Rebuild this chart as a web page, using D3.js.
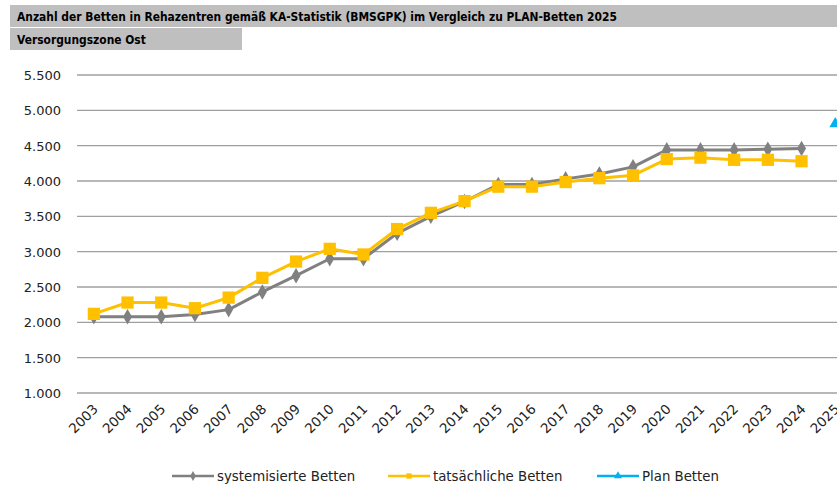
<!DOCTYPE html>
<html>
<head>
<meta charset="utf-8">
<script src="https://cdn.jsdelivr.net/npm/d3@7"></script>
<style>
  body { margin: 0; background: #fff; }
  svg { display: block; }
</style>
</head>
<body>
<div id="chart"></div>
<script>
const years = ["2003","2004","2005","2006","2007","2008","2009","2010","2011","2012","2013","2014",
  "2015","2016","2017","2018","2019","2020","2021","2022","2023","2024","2025"]
const systemisiert = [2080,2080,2080,2110,2180,2430,2660,2900,2900,3260,3500,3710,
  3950,3950,4030,4100,4200,4440,4440,4440,4450,4460,null]
const tatsaechlich = [2120,2280,2280,2200,2350,2630,2860,3040,2960,3320,3550,3715,
  3920,3920,3985,4040,4080,4310,4330,4300,4300,4280,null]
const planBetten = [null,null,null,null,null,null,null,null,null,null,null,null,
  null,null,null,null,null,null,null,null,null,null,4810]
const yTicks = [1000,1500,2000,2500,3000,3500,4000,4500,5000,5500]
const title = "Anzahl der Betten in Rehazentren gemäß KA-Statistik (BMSGPK) im Vergleich zu PLAN-Betten 2025"
const subtitle = "Versorgungszone Ost"
const legendNames = ["systemisierte Betten", "tatsächliche Betten", "Plan Betten"]

const width = 837, height = 486
const grey = "#808080", yellow = "#ffc000", blue = "#00b0f0"

const svg = d3.select("#chart").append("svg")
    .attr("width", width).attr("height", height)

// title bands
svg.append("rect").attr("x", 10).attr("y", 5).attr("width", width - 10).attr("height", 22).attr("fill", "#bfbfbf")
svg.append("rect").attr("x", 10).attr("y", 28).attr("width", 232).attr("height", 22).attr("fill", "#bfbfbf")
svg.append("text").attr("x", 17).attr("y", 21).text(title)
    .attr("font-family", "DejaVu Sans Condensed").attr("font-weight", "bold").attr("font-size", "11.9px")
svg.append("text").attr("x", 17).attr("y", 44).text(subtitle)
    .attr("font-family", "DejaVu Sans Condensed").attr("font-weight", "bold").attr("font-size", "11.9px")

const x = d3.scaleBand().domain(years).range([77, 77 + 23 * 33.7])
const y = d3.scaleLinear().domain([1000, 5500]).range([393, 75])

// grid
svg.append("g").selectAll("line").data(yTicks).join("line")
    .attr("x1", 77).attr("x2", width)
    .attr("y1", d => y(d)).attr("y2", d => y(d))
    .attr("stroke", "#a0a0a0").attr("stroke-width", 1.3)

svg.append("g").selectAll("text").data(yTicks).join("text")
    .attr("x", 61).attr("y", d => y(d) + 5)
    .attr("text-anchor", "end")
    .attr("font-family", "DejaVu Sans").attr("font-size", "13px").attr("fill", "#222")
    .text(d => d3.format(",")(d).replace(",", "."))

// x labels
svg.append("g").selectAll("text").data(years).join("text")
    .attr("transform", d => "translate(" + (x(d) + x.bandwidth() / 2 + 5) + ",410) rotate(-45)")
    .attr("text-anchor", "end")
    .attr("font-family", "DejaVu Sans").attr("font-size", "13.5px").attr("fill", "#222")
    .text(d => d)

const cx = d => x(d) + x.bandwidth() / 2

function drawSeries(values, color, shape, size) {
  const pts = years.map((yr, i) => ({yr: yr, v: values[i]})).filter(p => p.v != null)
  const line = d3.line().x(p => cx(p.yr)).y(p => y(p.v))
  svg.append("path").datum(pts).attr("d", line)
      .attr("fill", "none").attr("stroke", color).attr("stroke-width", 3).attr("stroke-linejoin", "round")
  svg.append("g").selectAll("path").data(pts).join("path")
      .attr("d", d3.symbol().type(shape).size(size))
      .attr("transform", p => "translate(" + cx(p.yr) + "," + y(p.v) + ")")
      .attr("fill", color)
}
drawSeries(systemisiert, grey, d3.symbolDiamond, 70)
drawSeries(tatsaechlich, yellow, d3.symbolSquare, 150)
drawSeries(planBetten, blue, d3.symbolTriangle, 60)

// legend
const legendX = [172, 388, 597]
const legendCol = [grey, yellow, blue]
const legendShape = [d3.symbolDiamond, d3.symbolSquare, d3.symbolTriangle]
const lg = svg.append("g").selectAll("g").data(legendNames).join("g")
    .attr("transform", (d, i) => "translate(" + legendX[i] + ",476)")
lg.append("line").attr("x1", 0).attr("x2", 42).attr("y1", 0).attr("y2", 0)
    .attr("stroke", (d, i) => legendCol[i]).attr("stroke-width", 2.5)
lg.append("path").attr("d", (d, i) => d3.symbol().type(legendShape[i]).size(28)())
    .attr("transform", "translate(21,0)").attr("fill", (d, i) => legendCol[i])
lg.append("text").attr("x", 45).attr("y", 5).text(d => d)
    .attr("font-family", "DejaVu Sans Condensed").attr("font-size", "14.8px").attr("fill", "#222")
</script>
</body>
</html>
